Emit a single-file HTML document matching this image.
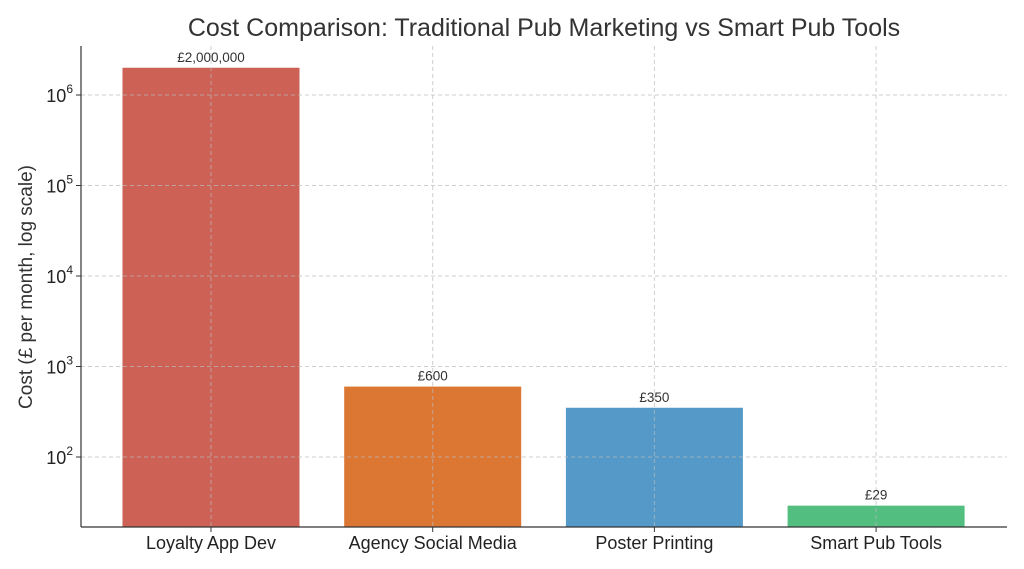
<!DOCTYPE html>
<html><head><meta charset="utf-8"><style>
body{margin:0;background:#fff;}
svg{display:block;font-family:"Liberation Sans","DejaVu Sans",sans-serif;}
</style></head><body>
<svg id="chart" width="1024" height="569">
<text x="544" y="36" text-anchor="middle" font-size="25" fill="#333">Cost Comparison: Traditional Pub Marketing vs Smart Pub Tools</text>
<text transform="translate(32,287) rotate(-90)" text-anchor="middle" font-size="19" fill="#333">Cost (£ per month, log scale)</text>
<g id="bars"></g><g id="grid"></g><g id="labels"></g><g id="ticks"></g>
<line x1="81" y1="46" x2="81" y2="527" stroke="#333" stroke-width="1.2"/>
<line x1="81" y1="527" x2="1007" y2="527" stroke="#333" stroke-width="1.2"/>
</svg>
<script>
const categories=["Loyalty App Dev","Agency Social Media","Poster Printing","Smart Pub Tools"];
const costs=[2000000,600,350,29];
const valueLabels=["£2,000,000","£600","£350","£29"];
const barColors=["#cd6155","#dc7633","#5499c7","#52be80"];
const yTickExps=[2,3,4,5,6];
const NS="http://www.w3.org/2000/svg";
function yScale(v){return 457-(Math.log10(v)-2)*90.5;}
function xScale(i){return 211+i*221.7;}
const bw=177, base=527;
function mk(tag,attrs,parent,text){const e=document.createElementNS(NS,tag);for(const k in attrs)e.setAttribute(k,attrs[k]);if(text!==undefined)e.textContent=text;document.getElementById(parent).appendChild(e);return e;}
categories.forEach((c,i)=>{
  const y=yScale(costs[i]);
  const r=mk("rect",{x:xScale(i)-bw/2,y:y,width:bw,height:base-y,fill:barColors[i]},"bars");
  
  
  const t=mk("text",{x:xScale(i),y:y-6,"text-anchor":"middle","font-size":"13.5",fill:"#333"},"labels",valueLabels[i]);
  
  
  const g=mk("line",{x1:xScale(i),x2:xScale(i),y1:46,y2:527,stroke:"#bbb","stroke-dasharray":"4,3","stroke-opacity":"0.7"},"grid");
  
  
  const tk=mk("line",{x1:xScale(i),x2:xScale(i),y1:527,y2:532,stroke:"#333"},"ticks");
  
  
  const xl=mk("text",{x:xScale(i),y:549,"text-anchor":"middle","font-size":"18",fill:"#222"},"ticks",c);
  
  
});
yTickExps.forEach(e=>{
  const y=yScale(Math.pow(10,e));
  const g=mk("line",{x1:81,x2:1007,y1:y,y2:y,stroke:"#bbb","stroke-dasharray":"4,3","stroke-opacity":"0.7"},"grid");
  
  
  const tk=mk("line",{x1:76,x2:81,y1:y,y2:y,stroke:"#333"},"ticks");
  
  
  const t=mk("text",{x:73,y:y+7,"text-anchor":"end","font-size":"18",fill:"#222"},"ticks","10");
  const s=document.createElementNS(NS,"tspan");s.setAttribute("dy","-9");s.setAttribute("font-size","12");s.textContent=e;t.appendChild(s);
  
  
});
</script>
</body></html>
